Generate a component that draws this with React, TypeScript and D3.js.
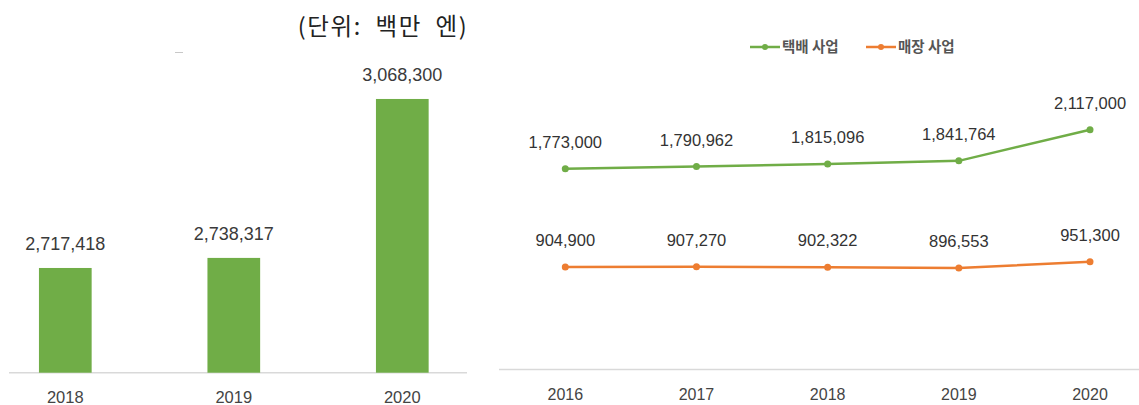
import React from 'react'
import * as d3 from 'd3'

// left chart: total sales
const barYears = ['2018', '2019', '2020']
const barValues = [2717418, 2738317, 3068300]

// right chart: by business
const lineYears = ['2016', '2017', '2018', '2019', '2020']
const parcelValues = [1773000, 1790962, 1815096, 1841764, 2117000]
const storeValues = [904900, 907270, 902322, 896553, 951300]
const seriesNames = ['택배 사업', '매장 사업']

const unitLabel = '(단위:  백만  엔)'

const GREEN = '#70ad47'
const ORANGE = '#ed7d31'
const NUM_FONT = '"Liberation Sans", Arial, sans-serif'
const KR_FONT = '"Noto Sans CJK KR", "Noto Sans", sans-serif'

const fmt = d3.format(',')

const App = () => {
  const W = 1139, H = 405

  // bar chart scales
  const xb = d3.scalePoint().domain(barYears).range([65.3, 402.3])
  const barW = 52.7
  const yb = d3.scaleLinear().domain([2500000, 3100000]).range([372.7, 83.7])

  // line chart scales
  const xl = d3.scalePoint().domain(lineYears).range([565.3, 1090])
  const yl = d3.scaleLinear().domain([0, 2500000]).range([369.5, 86.3])
  const series = [
    { name: seriesNames[0], values: parcelValues, color: GREEN },
    { name: seriesNames[1], values: storeValues, color: ORANGE },
  ]
  const line = d3.line<number>()
    .x((d, i) => xl(lineYears[i])!)
    .y(d => yl(d))

  const legendX = [750, 866]

  return (
    <svg width={W} height={H} style={{ position: 'absolute', left: 0, top: 0, display: 'block', background: '#fff' }}>
      {/* unit label */}
      <text x={297.7} y={35} fontFamily={KR_FONT} fontSize={23.5} fill="#222"
        textLength={169} lengthAdjust="spacing" style={{ whiteSpace: 'pre' }}>{unitLabel}</text>
      <line x1={175} x2={183} y1={52.5} y2={52.5} stroke="#c8c8c8" strokeWidth={1} />

      {/* bars */}
      <line x1={9} x2={467} y1={372.7} y2={372.7} stroke="#d9d9d9" strokeWidth={1.5} />
      {barYears.map((yr, i) => (
        <g key={yr}>
          <rect x={xb(yr)! - barW / 2} y={yb(barValues[i])} width={barW}
            height={yb.range()[0] - yb(barValues[i])} fill={GREEN} />
          <text x={xb(yr)} y={yb(barValues[i]) - 18} textAnchor="middle"
            fontFamily={NUM_FONT} fontSize={18} fill="#3a3a3a">{fmt(barValues[i])}</text>
          <text x={xb(yr)} y={403} textAnchor="middle"
            fontFamily={NUM_FONT} fontSize={16.5} fill="#444">{yr}</text>
        </g>
      ))}

      {/* legend */}
      {series.map((s, i) => (
        <g key={s.name} transform={`translate(${legendX[i]},47)`}>
          <line x1={0} x2={30} y1={0} y2={0} stroke={s.color} strokeWidth={2.5} />
          <circle cx={15} cy={0} r={3} fill={s.color} />
          <text x={32} y={4.5} fontFamily={KR_FONT} fontSize={14.5} fontWeight="bold" fill="#555">{s.name}</text>
        </g>
      ))}

      {/* lines */}
      <line x1={499} x2={1139} y1={369.5} y2={369.5} stroke="#d9d9d9" strokeWidth={1.5} />
      {series.map(s => (
        <g key={s.name}>
          <path d={line(s.values) || ''} fill="none" stroke={s.color} strokeWidth={2.5} />
          {s.values.map((v, i) => (
            <g key={i}>
              <circle cx={xl(lineYears[i])} cy={yl(v)} r={3.5} fill={s.color} />
              <text x={xl(lineYears[i])} y={yl(v) - 21} textAnchor="middle"
                fontFamily={NUM_FONT} fontSize={16.5} fill="#333">{fmt(v)}</text>
            </g>
          ))}
        </g>
      ))}
      {lineYears.map(yr => (
        <text key={yr} x={xl(yr)} y={399.5} textAnchor="middle"
          fontFamily={NUM_FONT} fontSize={16} fill="#444">{yr}</text>
      ))}
    </svg>
  )
}

export default App
